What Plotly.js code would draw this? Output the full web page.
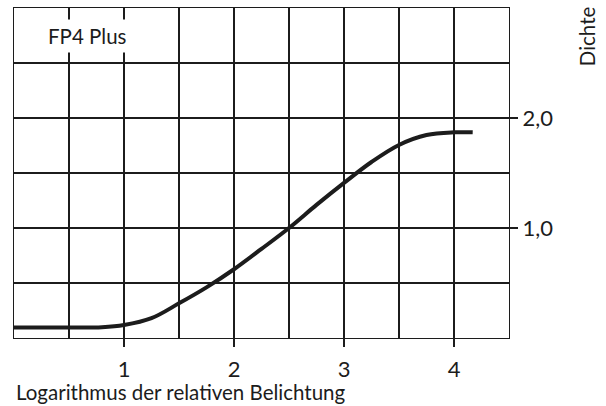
<!DOCTYPE html>
<html>
<head>
<meta charset="utf-8">
<script src="https://cdn.plot.ly/plotly-3.0.1.min.js"></script>
<style>html,body{margin:0;padding:0;background:#fff;}#chart{width:606px;height:406px;}</style>
</head>
<body>
<div id="chart"></div>
<script>
// Characteristic curve data (log relative exposure vs density)
var logExposure = [0, 0.5, 0.8, 1.0, 1.25, 1.5, 1.75, 2.0, 2.25, 2.5, 2.75, 3.0, 3.25, 3.5, 3.75, 4.0, 4.17];
var density     = [0.095, 0.095, 0.098, 0.118, 0.18, 0.315, 0.46, 0.625, 0.81, 1.0, 1.21, 1.41, 1.60, 1.755, 1.845, 1.87, 1.87];
var xTickVals = [1, 2, 3, 4];
var xTickText = ['1', '2', '3', '4'];
var yTickVals = [1, 2];
var yTickText = ['1,0', '2,0'];
var filmName = 'FP4 Plus';
var xTitle = 'Logarithmus der relativen Belichtung';
var yTitle = 'Dichte';

var FONT = 'Lato, "Open Sans", sans-serif';
var INK = '#1c1c1c';

var trace = {
  x: logExposure, y: density, type: 'scatter', mode: 'lines',
  line: {color: INK, width: 4, shape: 'spline', smoothing: 1},
  hoverinfo: 'skip', showlegend: false
};

var layout = {
  width: 606, height: 406,
  margin: {l: 14, r: 97, t: 8, b: 68, pad: 0},
  paper_bgcolor: '#fff', plot_bgcolor: '#fff',
  font: {family: FONT, color: INK, size: 20},
  xaxis: {
    range: [0, 4.5], tickmode: 'array', tickvals: xTickVals, ticktext: xTickText,
    ticks: 'outside', ticklen: 8, tickwidth: 1.2, tickcolor: INK, ticklabelstandoff: 3,
    showgrid: true, gridcolor: INK, gridwidth: 1.2,
    minor: {dtick: 0.5, tick0: 0, showgrid: true, gridcolor: INK, gridwidth: 1.2, ticks: ''},
    showline: true, mirror: true, linecolor: INK, linewidth: 1.2,
    zeroline: false, tickfont: {size: 22, family: FONT, color: INK}, fixedrange: true
  },
  yaxis: {
    range: [0, 3], side: 'right', tickmode: 'array', tickvals: yTickVals, ticktext: yTickText,
    ticks: 'outside', ticklen: 8, tickwidth: 1.2, tickcolor: INK,
    showgrid: true, gridcolor: INK, gridwidth: 1.2,
    minor: {dtick: 0.5, tick0: 0, showgrid: true, gridcolor: INK, gridwidth: 1.2, ticks: ''},
    showline: true, mirror: true, linecolor: INK, linewidth: 1.2,
    zeroline: false, tickfont: {size: 22, family: FONT, color: INK}, fixedrange: true
  },
  annotations: [
    {text: filmName, xref: 'x', yref: 'y', x: 0.666, y: 2.745, showarrow: false,
     xanchor: 'center', yanchor: 'middle', bgcolor: '#fff', borderpad: 4,
     font: {size: 20.5, family: FONT, color: INK}},
    {text: xTitle, xref: 'paper', yref: 'paper', x: 0, y: -0.164, showarrow: false,
     xanchor: 'left', yanchor: 'middle', font: {size: 20.5, family: FONT, color: INK}},
    {text: yTitle, xref: 'paper', yref: 'paper', x: 1.158, y: 0.915, showarrow: false,
     textangle: -90, xanchor: 'center', yanchor: 'middle', font: {size: 20.5, family: FONT, color: INK}}
  ]
};

Plotly.newPlot('chart', [trace], layout, {displayModeBar: false, staticPlot: true});
</script>
</body>
</html>
